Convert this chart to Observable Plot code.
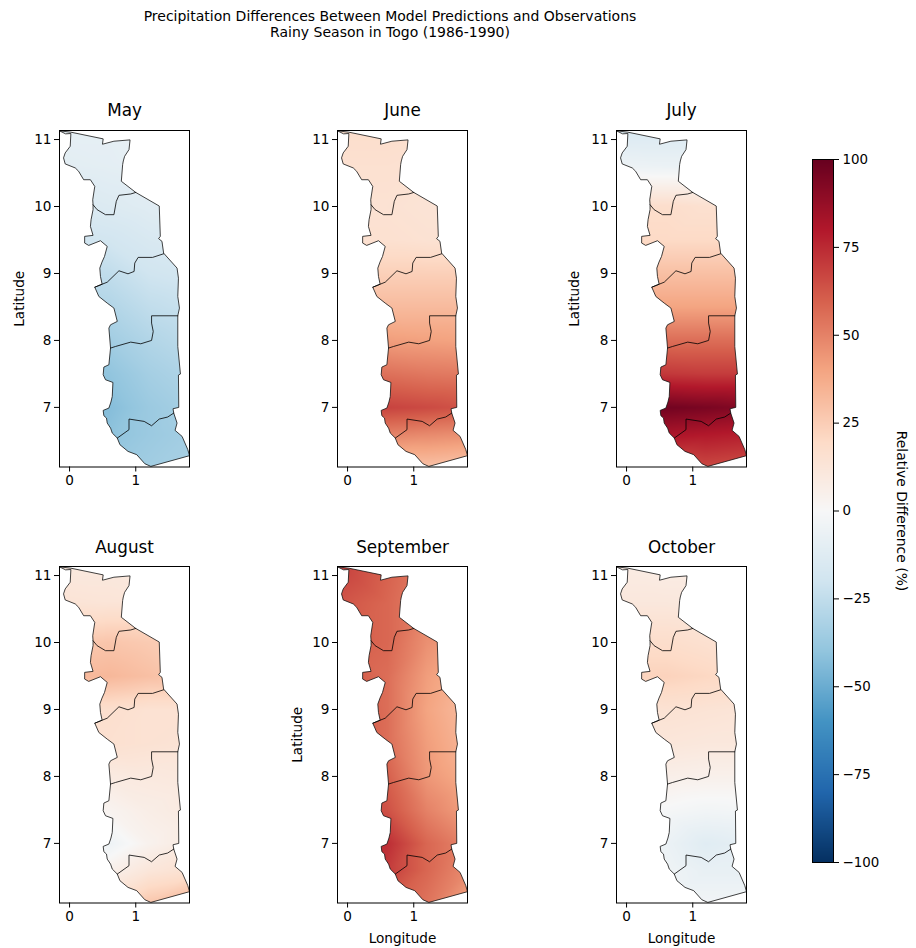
<!DOCTYPE html>
<html><head><meta charset="utf-8">
<script src="https://cdn.jsdelivr.net/npm/d3@7"></script>
<script src="https://cdn.jsdelivr.net/npm/@observablehq/plot@0.6"></script>
<style>
html,body{margin:0;padding:0;background:#fff}
#root{position:relative;width:916px;height:948px;overflow:hidden;font-family:"DejaVu Sans",sans-serif;color:#000}
#title{position:absolute;left:0;width:780px;top:8px;text-align:center;font-size:14px;line-height:16px}
</style></head><body><div id="root"><div id="title">Precipitation Differences Between Model Predictions and Observations<br>Rainy Season in Togo (1986-1990)</div></div>
<script>
const monthNames = ["May","June","July","August","September","October"];
const gridLons = [-0.2,0.6,1.2,1.9];
const gridLats = [11.2,10.6,10,9.5,9,8.5,8,7.5,7,6.6,6.1];
const mayValues = [
 -9,-9,-7,-7, -11,-10,-9,-8, -16,-14,-12,-10, -21,-19,-16,-14, -27,-25,-20,-18, -33,-30,-25,-22,
 -38,-35,-30,-26, -42,-40,-34,-30, -45,-43,-37,-33, -43,-41,-37,-34, -40,-38,-35,-33];
const juneValues = [
 18,18,17,17, 16,16,15,15, 15,15,14,14, 16,16,15,15, 24,24,24,24, 32,32,32,32,
 44,42,41,40, 57,55,53,52, 70,68,66,63, 50,50,48,46, 29,29,29,27];
const julyValues = [
 -16,-16,-16,-16, -5,-6,-6,-7, 18,18,16,15, 20,20,20,20, 30,30,30,30, 40,40,40,40,
 56,56,56,56, 72,71,70,70, 98,97,95,92, 82,82,80,78, 62,64,66,64];
const augustValues = [
 10,10,9,9, 14,13,13,12, 26,28,26,24, 32,33,30,25, 17,17,15,15, 17,16,15,14,
 10,9,10,11, 6,3,7,10, -3,-5,4,10, 6,5,12,16, 18,18,28,36];
const septemberValues = [
 70,60,52,48, 64,58,50,46, 62,58,46,40, 64,56,42,34, 66,56,40,30, 66,56,42,32,
 68,60,44,36, 72,64,50,40, 80,74,58,48, 76,70,58,46, 70,62,54,38];
const octoberValues = [
 8,7,7,7, 11,11,10,10, 18,18,16,15, 22,23,21,18, 14,15,14,13, 12,12,11,11,
 6,6,5,5, 0,-1,-3,-2, -4,-6,-12,-9, -2,-4,-8,-8, -3,-3,-3,-3];
const monthValues = [mayValues,juneValues,julyValues,augustValues,septemberValues,octoberValues];
const rdbuColors = ["#053061","#2166ac","#4393c3","#92c5de","#d1e5f0","#f7f7f7","#fddbc7","#f4a582","#d6604d","#b2182b","#67001f"];
const rdbuStops = [-100,-80,-60,-40,-20,0,20,40,60,80,100];
const outline = [[-0.152,11.13],[0.02,11.11],[0.508,11.01],[0.497,10.93],[0.67,10.975],[0.914,10.995],[0.898,10.85],[0.832,10.75],[0.812,10.68],[0.802,10.626],[0.782,10.377],[1.0,10.21],[1.355,10.007],[1.371,9.554],[1.345,9.52],[1.396,9.48],[1.421,9.304],[1.624,9.08],[1.645,8.93],[1.635,8.657],[1.66,8.483],[1.635,8.368],[1.635,7.91],[1.675,7.498],[1.645,7.483],[1.65,7.0],[1.563,6.98],[1.574,6.915],[1.624,6.766],[1.594,6.657],[1.70,6.567],[1.787,6.368],[1.812,6.279],[1.228,6.119],[1.137,6.159],[1.015,6.294],[0.883,6.343],[0.761,6.443],[0.721,6.542],[0.645,6.617],[0.62,6.69],[0.569,6.766],[0.558,6.841],[0.518,6.876],[0.508,6.955],[0.594,6.99],[0.625,7.08],[0.645,7.164],[0.655,7.373],[0.543,7.413],[0.508,7.488],[0.518,7.602],[0.594,7.637],[0.619,7.886],[0.594,8.184],[0.619,8.234],[0.721,8.284],[0.67,8.483],[0.569,8.557],[0.442,8.657],[0.381,8.795],[0.492,8.84],[0.467,8.955],[0.457,9.08],[0.49,9.17],[0.528,9.254],[0.569,9.404],[0.467,9.489],[0.289,9.419],[0.228,9.454],[0.228,9.554],[0.355,9.569],[0.315,9.703],[0.325,9.803],[0.355,9.953],[0.355,10.027],[0.35,10.1],[0.381,10.30],[0.315,10.40],[0.213,10.40],[0.137,10.526],[0.086,10.576],[-0.066,10.636],[-0.091,10.726],[-0.066,10.80],[0.01,10.9],[0.02,11.09],[-0.06,11.085],[-0.152,11.13]];
const borderA = [[1.0,10.21],[0.924,10.187],[0.746,10.167],[0.706,10.077],[0.67,9.878],[0.543,9.878],[0.416,9.953],[0.355,10.027]];
const borderB = [[1.421,9.294],[1.254,9.24],[1.036,9.24],[0.985,9.155],[0.975,9.03],[0.883,8.995],[0.746,9.04],[0.569,8.87],[0.381,8.795]];
const borderC = [[1.635,8.368],[1.239,8.368],[1.239,8.259],[1.264,8.134],[1.239,8.0],[1.076,7.95],[0.924,7.975],[0.695,7.91],[0.619,7.886]];
const borderD = [[1.574,6.915],[1.482,6.856],[1.355,6.826],[1.239,6.726],[1.127,6.791],[0.898,6.826],[0.898,6.667],[0.721,6.542]];
const latTicks = [7,8,9,10,11], lonTicks = [0,1], barTicks = [-100,-75,-50,-25,0,25,50,75,100];
const barTitle = "Relative Difference (%)";

const root = document.getElementById("root");
const colorScale = {type:"linear", domain:rdbuStops, range:rdbuColors, interpolate:"rgb"};
const clipShape = {type:"Polygon", coordinates:[outline]};
const lons0 = [59,337,616], tops = [129.5,566];
const W=130, H=336.5, ML=60, MR=10, MT=40, MB=50;
monthNames.forEach((name,i)=>{
  const cells=[];
  gridLats.forEach((la,r)=>gridLons.forEach((lo,c)=>cells.push({lo,la,v:monthValues[i][r*gridLons.length+c]})));
  const showLat = name==="May"||name==="July"||name==="September";
  const showLon = i>=4;
  const p = Plot.plot({
    width:W+ML+MR, height:H+MT+MB, marginLeft:ML, marginRight:MR, marginTop:MT, marginBottom:MB,
    style:{fontFamily:"DejaVu Sans",fontSize:"13.6px",background:"transparent",color:"#000"},
    x:{domain:[-0.152,1.812], ticks:lonTicks, tickFormat:"d", tickSize:5, tickPadding:3, label:showLon?"Longitude":null, labelAnchor:"center", labelArrow:"none", labelOffset:40},
    y:{domain:[6.11,11.135], ticks:latTicks, tickFormat:"d", tickSize:5, tickPadding:3, label:showLat?"Latitude":null, labelAnchor:"center", labelArrow:"none", labelOffset:name==="July"?47:45},
    color:colorScale,
    marks:[
      Plot.raster(cells,{x:"lo",y:"la",fill:"v",interpolate:"barycentric",clip:clipShape}),
      Plot.line(outline,{x:d=>d[0],y:d=>d[1],stroke:"#111",strokeWidth:0.8}),
      ...[borderA,borderB,borderC,borderD].map(b=>Plot.line(b,{x:d=>d[0],y:d=>d[1],stroke:"#000",strokeWidth:0.8})),
      Plot.frame({stroke:"#000",strokeWidth:1}),
      Plot.text([name],{frameAnchor:"top",dy:i>=3?-25:-26,fontSize:16.8,text:d=>d})
    ]
  });
  p.style.position="absolute";
  p.style.left=(lons0[i%3]-ML)+"px";
  p.style.top=(tops[i>=3?1:0]-MT)+"px";
  root.appendChild(p);
});
const bar = Plot.plot({
  width:110, height:703+40, marginLeft:6, marginRight:83, marginTop:20, marginBottom:20,
  style:{fontFamily:"DejaVu Sans",fontSize:"13.4px",background:"transparent",color:"#000"},
  x:{domain:[0,1],axis:null},
  y:{domain:[-100,100],axis:"right",ticks:barTicks,tickSize:5,tickPadding:4,label:null},
  color:colorScale,
  marks:[
    Plot.raster({x1:0,x2:1,y1:-100,y2:100,fill:(x,y)=>y,width:1,height:703}),
    Plot.frame({stroke:"#000",strokeWidth:1}),
    Plot.text([barTitle],{text:d=>d,frameAnchor:"middle",dx:78,rotate:90,fontSize:13.9})
  ]
});
bar.style.position="absolute"; bar.style.left="806px"; bar.style.top="139px";
root.appendChild(bar);
</script></body></html>
